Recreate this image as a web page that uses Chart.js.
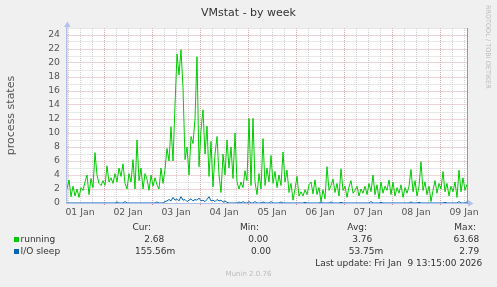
<!DOCTYPE html>
<html><head><meta charset="utf-8">
<script src="https://cdn.jsdelivr.net/npm/chart.js@4.4.1/dist/chart.umd.min.js"></script>
<style>
html,body{margin:0;padding:0;background:#f0f0f0;}
#wrap{position:relative;width:497px;height:287px;overflow:hidden;background:#f0f0f0;font-family:"DejaVu Sans",sans-serif;}
#c{position:absolute;left:0;top:0;}
.lg{position:absolute;white-space:pre;font-size:9px;line-height:11px;color:#333;}
.sw{position:absolute;width:5px;height:5px;}
#wm{position:absolute;left:484px;top:5px;writing-mode:vertical-rl;font-size:6.5px;line-height:8px;color:#bbb;white-space:pre;}
#mv{position:absolute;left:0;width:497px;text-align:center;top:270px;font-size:7px;line-height:9px;color:#bbb;}
</style></head><body>
<div id="wrap"><canvas id="c" width="497" height="287"></canvas></div>
<script>
// ---- data ----
const chartTitle = 'VMstat - by week';
const yAxisTitle = 'process states';
const seriesNames = ['running', 'I/O sleep'];
const statHeaders = ['Cur:', 'Min:', 'Avg:', 'Max:'];
const runningStats = ['2.68', '0.00', '3.76', '63.68'];
const ioSleepStats = ['155.56m', '0.00', '53.75m', '2.79'];
const lastUpdate = 'Last update: Fri Jan  9 13:15:00 2026';
const versionText = 'Munin 2.0.76';
const watermark = 'RRDTOOL / TOBI OETIKER';
const dayLabels = ['01 Jan', '02 Jan', '03 Jan', '04 Jan', '05 Jan', '06 Jan', '07 Jan', '08 Jan', '09 Jan'];
// hours since 01 Jan 00:00, one sample per hour
const startHour = 5.5;
const stepHours = 1;
const running = [
  2.0,3.3,0.9,2.4,1.0,2.0,0.8,2.2,1.8,3.0,
  4.0,1.2,3.5,2.2,7.2,4.0,2.8,2.5,3.2,2.5,
  5.3,3.0,3.6,2.8,4.2,3.0,5.0,3.8,5.6,2.8,
  2.0,4.2,3.0,6.2,2.0,9.0,3.2,5.0,2.0,4.2,
  3.4,1.8,4.0,2.4,3.6,2.6,2.0,5.0,2.8,4.8,
  7.8,6.0,10.9,6.0,14.0,21.3,18.3,21.9,16.5,6.2,
  8.0,4.0,9.5,8.5,12.0,20.9,5.2,10.4,13.3,7.0,
  11.0,3.8,8.8,2.3,7.0,9.5,4.0,1.5,7.0,4.0,
  9.0,5.0,8.0,3.5,10.0,3.0,2.0,3.0,2.2,4.6,
  3.2,12.1,2.5,12.1,3.0,1.2,4.2,2.0,9.2,2.5,
  5.0,3.0,6.8,2.8,4.5,2.2,4.0,2.5,7.3,3.0,
  4.7,1.5,2.8,0.4,2.0,3.8,1.0,1.6,1.0,1.9,
  1.2,2.6,3.0,1.3,3.3,1.2,2.2,0.2,1.9,0.6,
  5.2,1.8,2.5,3.4,1.5,2.8,1.0,4.9,1.8,2.4,
  0.8,2.3,3.2,1.4,1.8,2.4,1.0,2.0,1.4,2.4,
  1.2,2.8,1.6,4.0,1.2,2.6,0.6,3.0,1.4,2.4,
  1.8,3.3,1.2,3.0,1.0,2.2,1.4,2.6,0.8,2.2,
  1.4,2.4,4.8,1.6,3.2,1.0,2.4,5.9,1.8,3.0,
  1.2,2.4,0.2,1.8,3.2,1.4,2.8,2.0,4.5,1.6,
  2.8,1.0,2.4,1.6,3.0,0.8,4.7,1.6,3.6,1.8,
  2.68
];
const ioSleep = [
  0,0,0,0,0,0,0,0,0,0,
  0,0,0,0,0,0,0,0,0,0,
  0,0,0,0,0,0.15,0,0,0,0.2,
  0,0,0,0,0,0,0,0,0,0,
  0,0,0,0,0,0.15,0,0,0,0.2,
  0.3,0.5,0.3,0.8,0.4,0.6,0.3,0.9,0.4,0.5,
  0.2,0.4,0.6,0.3,0.5,0.4,0.7,0.3,0.4,0.2,
  0.5,0.9,0.3,0.4,0.2,0.5,0.3,0.4,0.1,0.3,
  0.1,0,0,0,0,0,0.15,0,0.2,0,
  0,0.2,0,0,0.2,0,0,0,0.15,0,
  0,0,0.2,0,0,0,0,0.15,0,0,
  0,0,0,0,0,0,0,0,0,0.1,
  0,0,0,0,0,0,0,0.15,0,0,
  0,0,0.15,0,0,0,0,0.1,0,0,
  0,0,0,0,0,0,0,0,0,0,
  0,0,0.2,0,0,0,0,0.1,0,0,
  0,0,0,0,0,0,0,0,0,0,
  0,0,0.15,0,0,0,0.1,0,0,0,
  0,0,0,0,0,0,0,0,0,0.1,
  0,0,0,0,0,0,0.2,0,0,0,
  0.16
];
const yMax = 25;
const xMin = startHour, xMax = startHour + (running.length - 1) * stepHours;

// ---- chart ----
const toPts = arr => arr.map((v, i) => ({ x: startHour + i * stepHours, y: v }));
const GRID_GREY = '#d0d0d0', GRID_RED = '#dca8b0', AXIS = '#b4c0ec';

const deco = {
  id: 'deco',
  beforeDraw(chart) {
    const { ctx, chartArea: a } = chart;
    ctx.save();
    ctx.fillStyle = '#ffffff';
    ctx.fillRect(a.left, a.top, a.right - a.left, a.bottom - a.top);
    ctx.restore();
  },
  afterDraw(chart) {
    const { ctx, chartArea: a } = chart;
    ctx.save();
    ctx.fillStyle = AXIS;
    ctx.beginPath();
    ctx.moveTo(a.left - 3, a.top - 1); ctx.lineTo(a.left + 3.5, a.top - 1); ctx.lineTo(a.left + 0.5, a.top - 6.5); ctx.closePath(); ctx.fill();
    ctx.beginPath();
    ctx.moveTo(a.right + 1, a.bottom - 3); ctx.lineTo(a.right + 1, a.bottom + 3.5); ctx.lineTo(a.right + 6.5, a.bottom + 0.5); ctx.closePath(); ctx.fill();
    ctx.restore();
  }
};

new Chart(document.getElementById('c'), {
  type: 'line',
  data: {
    datasets: [
      { label: seriesNames[0], data: toPts(running), borderColor: '#00cc00', borderWidth: 1, pointRadius: 0, tension: 0, fill: false, order: 2 },
      { label: seriesNames[1], data: toPts(ioSleep), borderColor: '#0066b3', borderWidth: 1, pointRadius: 0, tension: 0, fill: false, order: 1 }
    ]
  },
  options: {
    responsive: false, animation: false, devicePixelRatio: 1,
    layout: { padding: { left: 0, right: 0, top: 0, bottom: 64 } },
    plugins: {
      legend: { display: false }, tooltip: { enabled: false },
      title: { display: true, text: chartTitle, color: '#333', font: { family: 'DejaVu Sans', size: 11, weight: 'normal' }, padding: { top: 6.6, bottom: 8.2 } }
    },
    scales: {
      x: {
        type: 'linear', min: xMin, max: xMax,
        afterBuildTicks: s => { const t = []; for (let h = 6; h <= xMax; h += 6) t.push({ value: h }); s.ticks = t; },
        afterFit: s => { s.height = 20; },
        ticks: {
          autoSkip: false, maxRotation: 0, padding: 2, color: '#555',
          font: { family: 'DejaVu Sans', size: 9.3 },
          callback: v => ((v - 12) % 24 === 0 ? dayLabels[(v - 12) / 24] : '')
        },
        grid: {
          color: c => (c.tick && c.tick.value % 24 === 0 ? GRID_RED : GRID_GREY),
          tickColor: c => (c.tick && c.tick.value % 24 === 0 ? '#e08080' : 'rgba(0,0,0,0)'),
          lineWidth: 1, tickLength: 2
        },
        border: { color: AXIS, dash: [1, 1] }
      },
      y: {
        type: 'linear', min: 0, max: yMax,
        afterBuildTicks: s => { const t = []; for (let v = 0; v <= yMax; v++) t.push({ value: v }); s.ticks = t; },
        afterFit: s => { s.width = 67; },
        ticks: {
          autoSkip: false, padding: 7, color: '#555',
          font: { family: 'DejaVu Sans', size: 9.3 },
          callback: v => (v % 2 === 0 ? String(v) : '')
        },
        grid: { color: c => (c.tick && c.tick.value % 2 === 0 ? GRID_RED : GRID_GREY), lineWidth: 1, drawTicks: false },
        border: { color: AXIS, width: 1.5, dash: [1, 1] },
        title: { display: true, text: yAxisTitle, color: '#555', font: { family: 'DejaVu Sans', size: 11 }, padding: { top: 5, bottom: 0 } }
      },
      y2: {
        type: 'linear', position: 'right', min: 0, max: 1,
        afterFit: s => { s.width = 30; },
        ticks: { display: false },
        grid: { drawOnChartArea: false, drawTicks: false },
        border: { color: '#999' }
      }
    }
  },
  plugins: [deco]
});

// ---- legend / footer text ----
const wrap = document.getElementById('wrap');
function txt(s, opts) {
  const d = document.createElement('div');
  d.className = 'lg'; d.textContent = s;
  Object.assign(d.style, opts);
  wrap.appendChild(d); return d;
}
const headerRight = [151, 259, 367, 476];
statHeaders.forEach((h, i) => txt(h, { right: (497 - headerRight[i]) + 'px', top: '221.5px' }));
const rowTops = [234, 246];
const rowRights = [[164.3, 268.3, 372.3, 479.3], [175.3, 271, 383.3, 479.3]];
const rowColors = ['#00cc00', '#0066b3'];
[runningStats, ioSleepStats].forEach((vals, r) => {
  const sw = document.createElement('div'); sw.className = 'sw';
  Object.assign(sw.style, { left: '14px', top: (rowTops[r] + 3) + 'px', background: rowColors[r] });
  wrap.appendChild(sw);
  txt(seriesNames[r], { left: '20.5px', top: rowTops[r] + 'px' });
  vals.forEach((v, i) => txt(v, { right: (497 - rowRights[r][i]) + 'px', top: rowTops[r] + 'px' }));
});
txt(lastUpdate, { right: (497 - 482.3) + 'px', top: '258px' });
const mv = document.createElement('div'); mv.id = 'mv'; mv.textContent = versionText; wrap.appendChild(mv);
const wm = document.createElement('div'); wm.id = 'wm'; wm.textContent = watermark; wrap.appendChild(wm);
</script>
</body></html>
